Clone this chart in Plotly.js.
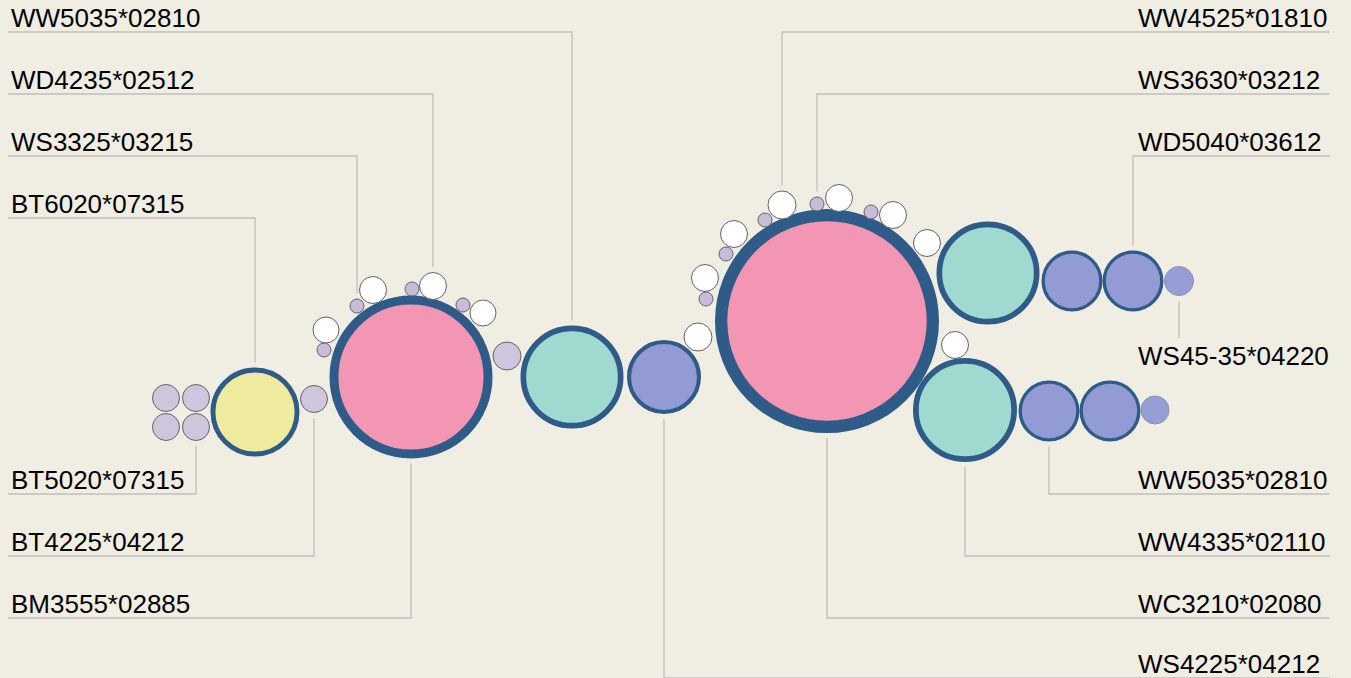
<!DOCTYPE html>
<html>
<head>
<meta charset="utf-8">
<script src="https://cdn.plot.ly/plotly-3.0.1.min.js"></script>
<style>html,body{margin:0;padding:0;background:#f0ede2;}#chart{width:1351px;height:678px;}</style>
</head>
<body>
<div id="chart"></div>
<script>
// ---- bubble data (centre x, centre y, outer diameter, kind) ----
const bubbleX = [166,196,166,196,255,314,411,326,373,433,483,324,357,412,463,507,572,664,
                 827,698,705,734,782,839,893,927,955,706,726,765,817,871,988,1072,1133,1179,965,1049,1110,1155];
const bubbleY = [398,398,427,427,412,399,377,330,290,286,313,350,306,289,305,356,377,377,
                 321,337,278,234,205,198,215,243,345,299,254,220,204,212,273,281,281,281,410,411,411,410];
const bubbleD = [28,28,28,28,89,28,163,27,28,28,27,15,15,15,15,29,103,74,
                 224,29,28,28,29,28,28,28,28,15,15,15,15,15,103,61,61,30,104,61,61,29];
const bubbleKind = ['lav','lav','lav','lav','yellow','lav','pink','white','white','white','white','tiny','tiny','tiny','tiny','lav','teal','peri',
                    'pink','white','white','white','white','white','white','white','white','tiny','tiny','tiny','tiny','tiny','teal','peri','peri','periS','teal','peri','peri','periS'];

// ---- labels ----
const labelText = ['WW5035*02810','WD4235*02512','WS3325*03215','BT6020*07315','BT5020*07315','BT4225*04212','BM3555*02885',
                   'WW4525*01810','WS3630*03212','WD5040*03612','WS45-35*04220','WW5035*02810','WW4335*02110','WC3210*02080','WS4225*04212'];
const labelSide = ['L','L','L','L','L','L','L','R','R','R','R','R','R','R','R'];
const labelY    = [18,80,142,204,480,542,604,18,80,142,356,480,542,604,664];
const labelBubble = [16,9,12,4,3,5,6,22,30,34,35,37,36,18,17];
const labelUnderline = [1,1,1,1,1,1,1,1,1,1,0,1,1,1,1];

// ---- styles ----
const kindFill = {lav:'#cfc6de', tiny:'#c7bdd9', white:'#ffffff', yellow:'#eeeb9f', pink:'#f296b4', teal:'#9fd9d0', peri:'#929bd3', periS:'#959ed5'};
const darkBorder = {yellow:1, pink:1, teal:1, peri:1};
const BORDER = '#2f5b88';
const THIN = '#66616a';
const LINE = '#c0bfbb';
const GAP = 5;

const sizes = [], lw = [], lc = [], fills = [];
for (let i = 0; i < bubbleX.length; i++) {
  const k = bubbleKind[i];
  let w = darkBorder[k] ? Math.max(3, bubbleD[i] * 0.055) : 1;
  if (k === 'periS') w = 1;
  lw.push(w);
  sizes.push(bubbleD[i] - w);
  lc.push(darkBorder[k] ? BORDER : (k === 'periS' ? '#8d8fb8' : THIN));
  fills.push(kindFill[k]);
}

// leader lines
const lx = [], ly = [];
const annotations = [];
for (let j = 0; j < labelText.length; j++) {
  const b = labelBubble[j];
  const bx = bubbleX[b], by = bubbleY[b], r = bubbleD[b] / 2;
  const above = labelY[j] < by;
  const edge = above ? by - r - GAP : by + r + GAP;
  if (labelUnderline[j]) {
    const uy = labelY[j] + 14;
    if (labelSide[j] === 'L') { lx.push(8, bx, bx, null); }
    else { lx.push(1330, bx, bx, null); }
    ly.push(uy, uy, edge, null);
  } else {
    lx.push(bx, bx, null);
    ly.push(edge, labelY[j] - 18, null);
  }
  annotations.push({
    x: labelSide[j] === 'L' ? 9 : 1136, y: labelY[j], xref: 'x', yref: 'y',
    text: labelText[j], showarrow: false, xanchor: 'left', yanchor: 'middle',
    font: {family: 'Liberation Sans, Arial, sans-serif', size: 26, color: '#000000'}
  });
}

const traces = [
  {x: lx, y: ly, mode: 'lines', line: {color: LINE, width: 1.3}, hoverinfo: 'skip', showlegend: false},
  {x: bubbleX, y: bubbleY, mode: 'markers', hoverinfo: 'skip', showlegend: false,
   marker: {size: sizes, sizemode: 'diameter', color: fills, opacity: 1, line: {color: lc, width: lw}}}
];

const layout = {
  width: 1351, height: 678,
  margin: {l: 0, r: 0, t: 0, b: 0},
  paper_bgcolor: '#f0ede2', plot_bgcolor: '#f0ede2',
  xaxis: {range: [0, 1351], visible: false, fixedrange: true},
  yaxis: {range: [678, 0], visible: false, fixedrange: true},
  annotations: annotations,
  showlegend: false
};
Plotly.newPlot('chart', traces, layout, {staticPlot: true, displayModeBar: false});
</script>
</body>
</html>
